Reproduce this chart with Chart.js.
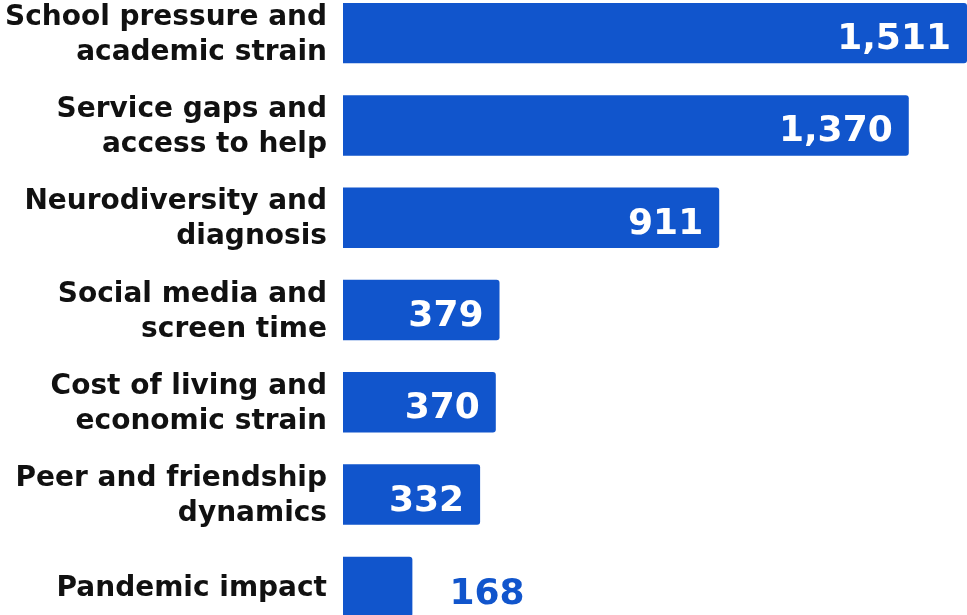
<!DOCTYPE html>
<html>
<head>
<meta charset="utf-8">
<script src="https://cdn.jsdelivr.net/npm/chart.js@4"></script>
<style>
  html, body { margin: 0; padding: 0; background: #ffffff; overflow: hidden; }
  body { width: 967px; height: 615px; position: relative; }
  #chart { position: absolute; left: 0; top: -13px; }
</style>
</head>
<body>
<canvas id="chart" width="967" height="646"></canvas>
<script>
// Theme labels (wrapped onto two lines) and mention counts
const categories = [
  ["School pressure and", "academic strain"],
  ["Service gaps and", "access to help"],
  ["Neurodiversity and", "diagnosis"],
  ["Social media and", "screen time"],
  ["Cost of living and", "economic strain"],
  ["Peer and friendship", "dynamics"],
  "Pandemic impact"
];
const counts = [1511, 1370, 911, 379, 370, 332, 168];

const BAR_BLUE = "#1155CC";
const INK = "#111111";
const FAMILY = '"DejaVu Sans", Verdana, sans-serif';

// Nudges the category labels a little lower so they sit centred on the bars
const labelNudge = {
  id: "labelNudge",
  beforeDraw(chart) {
    const items = chart.scales.y.getLabelItems();
    items.forEach(it => { it.options.translation[1] += 2; });
  }
};

// Writes each count at the end of its bar: inside in white when it fits, outside in blue otherwise
const valueLabels = {
  id: "valueLabels",
  afterDatasetsDraw(chart) {
    const ctx = chart.ctx;
    const meta = chart.getDatasetMeta(0);
    ctx.save();
    ctx.font = "bold 36px " + FAMILY;
    ctx.textBaseline = "alphabetic";
    meta.data.forEach((bar, i) => {
      const text = counts[i].toLocaleString("en-US");
      const w = ctx.measureText(text).width;
      const barLen = bar.x - bar.base;
      if (barLen > w + 30) {
        ctx.fillStyle = "#ffffff";
        ctx.textAlign = "right";
        ctx.fillText(text, bar.x - 16, bar.y + 16);
      } else {
        ctx.fillStyle = BAR_BLUE;
        ctx.textAlign = "left";
        ctx.fillText(text, bar.x + 37, bar.y + 17);
      }
    });
    ctx.restore();
  }
};

new Chart(document.getElementById("chart"), {
  type: "bar",
  data: {
    labels: categories,
    datasets: [{
      data: counts,
      backgroundColor: BAR_BLUE,
      borderWidth: 0,
      borderRadius: 3,
      categoryPercentage: 1,
      barPercentage: 0.655
    }]
  },
  options: {
    indexAxis: "y",
    responsive: false,
    animation: false,
    layout: { padding: 0 },
    plugins: {
      legend: { display: false },
      tooltip: { enabled: false }
    },
    scales: {
      x: {
        display: false,
        min: 0,
        max: 1511
      },
      y: {
        grid: { display: false, drawTicks: false },
        border: { display: false },
        afterFit(scale) {
          // fixed label column; bands fill the full canvas height
          scale.width = 343;
          scale.paddingTop = 0;
          scale.paddingBottom = 0;
        },
        ticks: {
          color: INK,
          padding: 16,
          font: { family: FAMILY, weight: "bold", size: 28, lineHeight: 1.25 }
        }
      }
    }
  },
  plugins: [labelNudge, valueLabels]
});
</script>
</body>
</html>
